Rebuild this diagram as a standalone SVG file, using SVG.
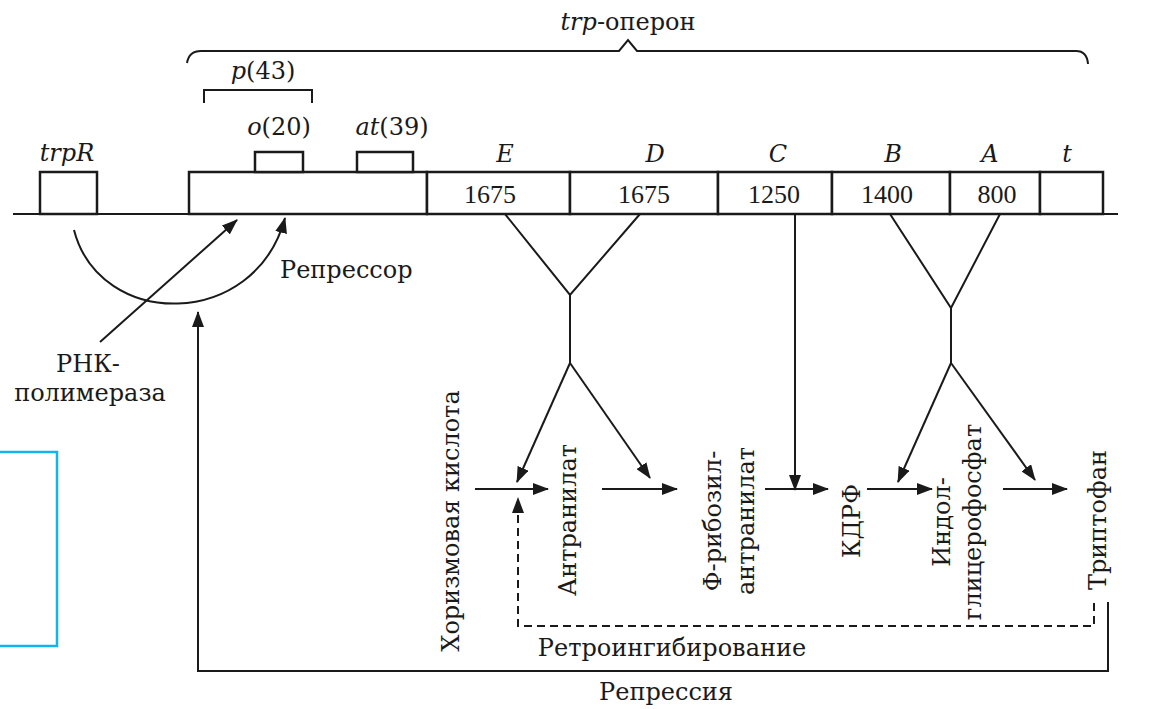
<svg xmlns="http://www.w3.org/2000/svg" width="1152" height="709" viewBox="0 0 1152 709">
<style>
.ln{fill:none;stroke:#1a1a1a;stroke-width:2}
.bx{fill:#fff;stroke:#1a1a1a;stroke-width:2.5}
.t{font-family:"DejaVu Serif","Liberation Serif",serif;font-size:24px;fill:#1a1a1a}
.n{font-family:"Liberation Serif","DejaVu Serif",serif;font-size:26px;fill:#1a1a1a}
.i{font-style:italic}
.m{text-anchor:middle}
</style>
<defs>
<marker id="ah" markerUnits="userSpaceOnUse" markerWidth="16" markerHeight="12" refX="15" refY="6" orient="auto">
<path d="M0,0 L16,6 L0,12 z" fill="#1a1a1a"/>
</marker>
</defs>
<rect width="1152" height="709" fill="#fff"/>

<g id="dna">
<line class="ln" x1="13" y1="214" x2="1118" y2="214"/>
</g>

<g id="operon-brace">
<path class="ln" d="M187,63 Q189,51 201,51 L619,51 L628,40 L637,51 L1076,51 Q1087,51 1088,64"/>
<text class="t m" x="628" y="30"><tspan class="i">trp</tspan>-оперон</text>
</g>

<g id="trpR">
<rect class="bx" x="40" y="172" width="57" height="42"/>
<text class="t m i" x="67" y="161">trpR</text>
</g>

<g id="promoter">
<path class="ln" d="M204,103 L204,90 L312,90 L312,103"/>
<text class="t m" x="263" y="79"><tspan class="i">p</tspan>(43)</text>
</g>

<g id="control-region">
<rect class="bx" x="189" y="172" width="238" height="42"/>
</g>

<g id="operator">
<rect class="bx" x="255" y="152" width="48" height="20"/>
<text class="t m" x="279" y="135"><tspan class="i">o</tspan>(20)</text>
</g>

<g id="attenuator">
<rect class="bx" x="357" y="152" width="56" height="20"/>
<text class="t m" x="392" y="135"><tspan class="i">at</tspan>(39)</text>
</g>

<g id="geneE">
<rect class="bx" x="427" y="172" width="143" height="42"/>
<text class="t m i" x="505" y="162">E</text>
<text class="n m" x="490" y="203">1675</text>
</g>
<g id="geneD">
<rect class="bx" x="570" y="172" width="148" height="42"/>
<text class="t m i" x="655" y="162">D</text>
<text class="n m" x="644" y="203">1675</text>
</g>
<g id="geneC">
<rect class="bx" x="718" y="172" width="114" height="42"/>
<text class="t m i" x="778" y="162">C</text>
<text class="n m" x="774" y="203">1250</text>
</g>
<g id="geneB">
<rect class="bx" x="832" y="172" width="118" height="42"/>
<text class="t m i" x="893" y="162">B</text>
<text class="n m" x="887" y="203">1400</text>
</g>
<g id="geneA">
<rect class="bx" x="950" y="172" width="90" height="42"/>
<text class="t m i" x="990" y="162">A</text>
<text class="n m" x="997" y="203">800</text>
</g>
<g id="terminator">
<rect class="bx" x="1040" y="172" width="63" height="42"/>
<text class="t m i" x="1067" y="162">t</text>
</g>

<g id="repressor-label">
<text class="t" x="280" y="278">Репрессор</text>
</g>

<g id="rna-polymerase">
<text class="t m" x="88" y="372">РНК-</text>
<text class="t m" x="90" y="401">полимераза</text>
</g>

<g id="chorismate">
<text class="t m" transform="translate(459,521) rotate(-90)">Хоризмовая кислота</text>
</g>
<g id="anthranilate">
<text class="t m" transform="translate(576,520) rotate(-90)">Антранилат</text>
</g>
<g id="pra">
<text class="t m" transform="translate(721,521) rotate(-90)">Ф-рибозил-</text>
<text class="t m" transform="translate(754,521) rotate(-90)">антранилат</text>
</g>
<g id="cdrp">
<text class="t m" transform="translate(860,521) rotate(-90)">КДРФ</text>
</g>
<g id="igp">
<text class="t m" transform="translate(950,522) rotate(-90)">Индол-</text>
<text class="t m" transform="translate(981,522) rotate(-90)">глицерофосфат</text>
</g>
<g id="tryptophan">
<text class="t m" transform="translate(1106,520) rotate(-90)">Триптофан</text>
</g>

<g id="feedback-labels">
<text class="t m" x="672" y="656">Ретроингибирование</text>
<text class="t m" x="666" y="700">Репрессия</text>
</g>

<g id="connectors">
<path class="ln" d="M74,230 C100,330 255,330 285,218" marker-end="url(#ah)"/>
<line class="ln" x1="100" y1="342" x2="237" y2="220" marker-end="url(#ah)"/>
<path class="ln" d="M505,214 L570,295 L640,214 M570,295 L570,363"/>
<line class="ln" x1="570" y1="363" x2="517" y2="482" marker-end="url(#ah)"/>
<line class="ln" x1="570" y1="363" x2="650" y2="478" marker-end="url(#ah)"/>
<line class="ln" x1="795" y1="214" x2="795" y2="490" marker-end="url(#ah)"/>
<path class="ln" d="M890,214 L951,308 L1000,214 M951,308 L951,363"/>
<line class="ln" x1="951" y1="363" x2="898" y2="482" marker-end="url(#ah)"/>
<line class="ln" x1="951" y1="363" x2="1035" y2="480" marker-end="url(#ah)"/>
<line class="ln" x1="475" y1="489" x2="548" y2="489" marker-end="url(#ah)"/>
<line class="ln" x1="602" y1="489" x2="677" y2="489" marker-end="url(#ah)"/>
<line class="ln" x1="765" y1="489" x2="828" y2="489" marker-end="url(#ah)"/>
<line class="ln" x1="867" y1="489" x2="932" y2="489" marker-end="url(#ah)"/>
<line class="ln" x1="1003" y1="489" x2="1067" y2="489" marker-end="url(#ah)"/>
<path class="ln" d="M1094,603 L1094,626 L518,626 L518,498" stroke-dasharray="8,5" marker-end="url(#ah)"/>
<path class="ln" d="M1108,602 L1108,671 L198,671 L198,312" marker-end="url(#ah)"/>
</g>

<rect x="-2" y="452" width="59" height="194" fill="none" stroke="#12b4ee" stroke-width="2.5"/>
</svg>
